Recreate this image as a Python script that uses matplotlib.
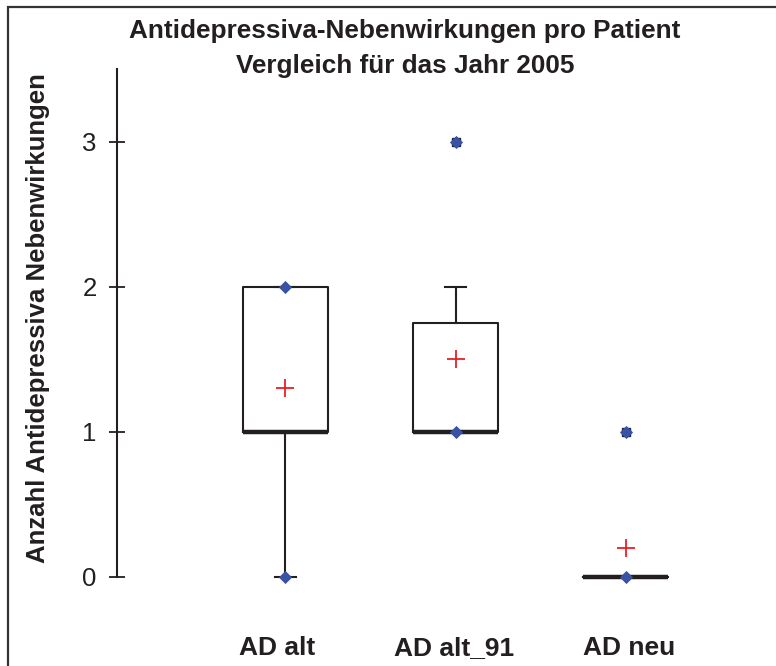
import matplotlib
matplotlib.use("Agg")
import matplotlib.pyplot as plt
from matplotlib.patches import Rectangle

# ---- data ----
categories = ["AD alt", "AD alt_91", "AD neu"]
q1 = [1, 1, 0]
medians = [1, 1, 0]
q3 = [2, 1.75, 0]
whis_lo = [0, 1, 0]
whis_hi = [2, 2, 0]
means = [1.3, 1.5, 0.2]
points = [[0, 2], [1, 3], [0, 1]]      # min / max / individual values (blue diamonds)
outliers = [[], [3], [1]]              # outliers (dark square marker behind)
yticks = [0, 1, 2, 3]

W, H = 776, 666
plt.rcParams['font.family'] = ['Liberation Sans', 'DejaVu Sans']
ink = '#231f20'

fig = plt.figure(figsize=(W / 100, H / 100), dpi=100)

# frame around the chart
fig.patches.append(Rectangle((8 / W, -0.1), 2.0, 1 - 7 / H + 0.1,
                             transform=fig.transFigure, fill=False,
                             edgecolor='#333333', linewidth=1.6, zorder=0))

ax_top = 69
ax_bot = 620
ax_left = 117
ax_right = 745
ax = fig.add_axes([ax_left / W, 1 - ax_bot / H, (ax_right - ax_left) / W,
                   (ax_bot - ax_top) / H])
ax.patch.set_alpha(0)

stats = []
for i, c in enumerate(categories):
    stats.append(dict(label=c, q1=q1[i], med=medians[i], q3=q3[i],
                      whislo=whis_lo[i], whishi=whis_hi[i], mean=means[i],
                      fliers=points[i]))

positions = [1, 2, 3]
ax.bxp(stats, positions=positions, widths=0.5, capwidths=0.12,
       showmeans=True, showfliers=True, patch_artist=False,
       boxprops=dict(color=ink, linewidth=1.5),
       whiskerprops=dict(color=ink, linewidth=1.5),
       capprops=dict(color=ink, linewidth=1.5),
       medianprops=dict(color=ink, linewidth=3.2, solid_capstyle='butt'),
       meanprops=dict(marker='+', markersize=13, markeredgecolor='#ed1c24',
                      markeredgewidth=1.3, linestyle='none'),
       flierprops=dict(marker='D', markersize=6.6, markerfacecolor='#3953a4',
                       markeredgecolor='#3953a4', markeredgewidth=0.6,
                       linestyle='none', zorder=5))

# dark outlier markers peeking out behind the diamonds
for p, outs in zip(positions, outliers):
    if outs:
        ax.plot([p] * len(outs), outs, linestyle='none', marker='s',
                markersize=6.2, markerfacecolor='#222222',
                markeredgecolor='#222222', zorder=4)

ax.set_xlim(0.01, 3.7)
ax.set_ylim(-0.30, 3.5)
for s in ['top', 'right', 'bottom']:
    ax.spines[s].set_visible(False)
ax.spines['left'].set_bounds(0, 3.5)
ax.spines['left'].set_color(ink)
ax.spines['left'].set_linewidth(1.5)

ax.set_yticks(yticks)
ax.set_yticklabels([str(t) for t in yticks])
ax.tick_params(axis='y', direction='inout', length=11, width=1.3, color=ink,
               labelsize=18.5, labelcolor=ink, pad=9)

# category labels, placed on a common baseline below the plot
ax.set_xticks([])
label_y = -(655 - ax_bot) / (ax_bot - ax_top)
label_shift = [-0.05, -0.01, 0.02]
for p, c, d in zip(positions, categories, label_shift):
    ax.text(p + d, label_y, c, transform=ax.get_xaxis_transform(),
            ha='center', va='baseline', fontsize=19, fontweight='bold',
            color=ink, clip_on=False)

fig.text(405 / W, 1 - 38 / H, "Antidepressiva-Nebenwirkungen pro Patient",
         ha='center', va='baseline', fontsize=18.8, fontweight='bold', color=ink)
fig.text(405 / W, 1 - 73 / H, "Vergleich für das Jahr 2005",
         ha='center', va='baseline', fontsize=18.8, fontweight='bold', color=ink)
fig.text(38 / W, 1 - 318 / H, "Anzahl Antidepressiva Nebenwirkungen",
         ha='center', va='center', rotation=90, fontsize=18.5,
         fontweight='bold', color=ink)

fig.savefig("out.png", dpi=100)
